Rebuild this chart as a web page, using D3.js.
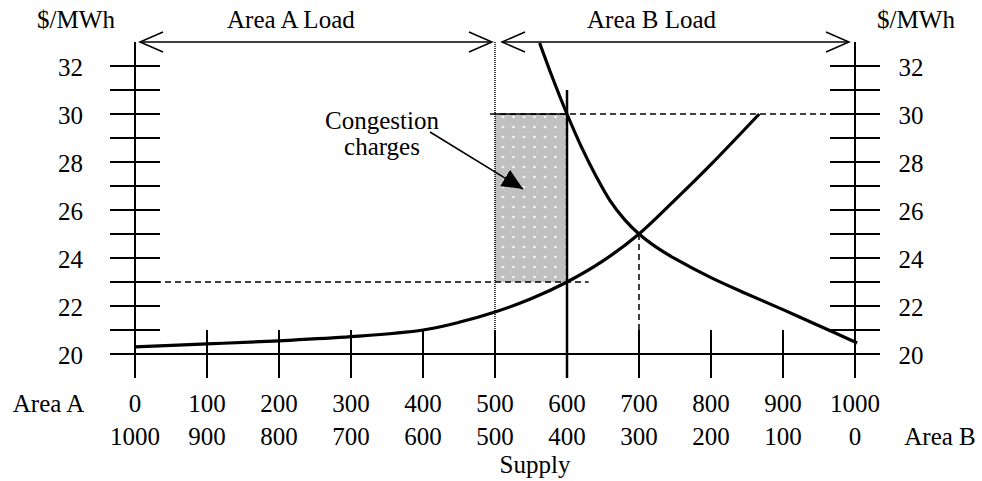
<!DOCTYPE html>
<html><head><meta charset="utf-8">
<script src="https://cdn.jsdelivr.net/npm/d3@7/dist/d3.min.js"></script>
<style>body{margin:0;background:#fff}svg{display:block}text{font-family:"Liberation Serif","Times New Roman",serif;font-size:25px;fill:#000}</style>
</head><body><svg id="c" width="982" height="481"></svg>
<script>
// ---- data ----
const xTicks = [0,100,200,300,400,500,600,700,800,900,1000];
const areaALabels = ["0","100","200","300","400","500","600","700","800","900","1000"];
const areaBLabels = ["1000","900","800","700","600","500","400","300","200","100","0"];
const yTicks = [20,21,22,23,24,25,26,27,28,29,30,31,32];
const yLabels = [20,22,24,26,28,30,32];
const supplyX = [0,100,200,300,400,450,500,550,600,650,700,750,800,867];
const supplyY = [20.3,20.42,20.55,20.72,21.0,21.32,21.75,22.3,23.0,23.88,25.0,26.42,27.9,30.0];
const demandX = [562,580,600,620,640,660,680,700,725,750,800,850,900,950,1003];
const demandY = [32.96,31.5,30.0,28.63,27.43,26.38,25.6,25.0,24.43,23.97,23.18,22.5,21.85,21.18,20.46];
const congestionX = [500,600];   // interface limit band
const priceA = 23, priceB = 30;  // area prices
const eqX = 700, eqY = 25;       // unconstrained equilibrium
const areaLoadLabels = ["Area A Load","Area B Load"];

// ---- scales ----
const svg = d3.select("#c");
const x = d3.scaleLinear().domain([0,1000]).range([135,855]);
const y = d3.scaleLinear().domain([20,32]).range([354,66]);
const topY = 42, axisBottom = 378, tickTop = 330;

// pattern
const defs = svg.append("defs");
const pat = defs.append("pattern").attr("id","dots").attr("patternUnits","userSpaceOnUse")
  .attr("width",10.5).attr("height",10).attr("x",x(500)).attr("y",y(30));
pat.append("rect").attr("width",10.5).attr("height",10).attr("fill","#c0c0c0");
pat.append("circle").attr("cx",8).attr("cy",3).attr("r",1.2).attr("fill","#fff");
defs.append("marker").attr("id","tri").attr("viewBox","0 0 10 10").attr("refX",10).attr("refY",5)
  .attr("markerWidth",21).attr("markerHeight",19).attr("markerUnits","userSpaceOnUse").attr("orient","auto")
  .attr("preserveAspectRatio","none")
  .append("path").attr("d","M0,0 L10,5 L0,10 Z").attr("fill","#000");

// congestion rect
svg.append("rect").attr("x",x(congestionX[0])).attr("y",y(priceB))
  .attr("width",x(congestionX[1])-x(congestionX[0])).attr("height",y(priceA)-y(priceB))
  .attr("fill","url(#dots)");
svg.append("line").attr("x1",x(congestionX[0])).attr("x2",x(congestionX[1])).attr("y1",y(priceB)).attr("y2",y(priceB))
  .attr("stroke","#000").attr("stroke-width",1.5);

// y axes (left & right)
[[x(0),-1],[x(1000),1]].forEach(([ax,side])=>{
  svg.append("line").attr("x1",ax).attr("x2",ax).attr("y1",topY).attr("y2",axisBottom).attr("stroke","#000").attr("stroke-width",2);
  svg.selectAll(null).data(yTicks).enter().append("line")
    .attr("x1",ax-25).attr("x2",ax+25).attr("y1",d=>y(d)).attr("y2",d=>y(d)).attr("stroke","#000").attr("stroke-width",2);
  svg.selectAll(null).data(yLabels).enter().append("text")
    .attr("x",side<0?ax-64.5:ax+56).attr("y",d=>y(d)+10).attr("text-anchor","middle").text(d=>d);
  svg.append("text").attr("x",side<0?76:916).attr("y",28).attr("text-anchor","middle").text("$/MWh");
});

// x axis
svg.append("line").attr("x1",x(0)-25).attr("x2",x(1000)+25).attr("y1",y(20)).attr("y2",y(20)).attr("stroke","#000").attr("stroke-width",2);
svg.selectAll(null).data(xTicks.filter(d=>d>0&&d<1000)).enter().append("line")
  .attr("x1",d=>x(d)).attr("x2",d=>x(d)).attr("y1",d=>d===600?y(31):tickTop).attr("y2",axisBottom)
  .attr("stroke","#000").attr("stroke-width",d=>d===600?2.5:2);
svg.selectAll(null).data(xTicks).enter().append("text")
  .attr("x",d=>x(d)).attr("y",412).attr("text-anchor","middle").text((d,i)=>areaALabels[i]);
svg.selectAll(null).data(xTicks).enter().append("text")
  .attr("x",d=>x(d)).attr("y",445).attr("text-anchor","middle").text((d,i)=>areaBLabels[i]);
svg.append("text").attr("x",48.5).attr("y",412).attr("text-anchor","middle").text("Area A");
svg.append("text").attr("x",940).attr("y",445).attr("text-anchor","middle").text("Area B");
svg.append("text").attr("x",535).attr("y",473).attr("text-anchor","middle").text("Supply");

// dotted interface line
svg.append("line").attr("x1",x(500)).attr("x2",x(500)).attr("y1",topY).attr("y2",tickTop)
  .attr("stroke","#000").attr("stroke-width",1.5).attr("stroke-dasharray","1,1");

// dashed guides
const dash = (x1,y1,x2,y2)=>svg.append("line").attr("x1",x1).attr("y1",y1).attr("x2",x2).attr("y2",y2)
  .attr("stroke","#000").attr("stroke-width",1.5).attr("stroke-dasharray","6,4");
dash(x(0),y(priceA),x(630),y(priceA));
dash(x(493),y(priceB),x(1000)+25,y(priceB));
dash(x(eqX),y(eqY),x(eqX),tickTop);

// curves
const line = d3.line().x(d=>x(d[0])).y(d=>y(d[1])).curve(d3.curveCatmullRom);
svg.append("path").datum(supplyX.map((v,i)=>[v,supplyY[i]])).attr("d",line)
  .attr("fill","none").attr("stroke","#000").attr("stroke-width",3.2);
svg.append("path").datum(demandX.map((v,i)=>[v,demandY[i]])).attr("d",line)
  .attr("fill","none").attr("stroke","#000").attr("stroke-width",3.2);

// top double arrows
const chevron = (tx,dir)=>svg.append("path")
  .attr("d",`M${tx+dir*23},${topY-10} L${tx},${topY} L${tx+dir*23},${topY+10}`)
  .attr("fill","none").attr("stroke","#000").attr("stroke-width",1.5);
const labelStart = [227,587];
[[x(0)+5,x(500)-3],[x(500)+7,x(1000)-6]].forEach(([a,b],i)=>{
  svg.append("line").attr("x1",a).attr("x2",b).attr("y1",topY).attr("y2",topY).attr("stroke","#000").attr("stroke-width",1.5);
  chevron(a,1); chevron(b,-1);
  svg.append("text").attr("x",labelStart[i]).attr("y",28).attr("text-anchor","start").text(areaLoadLabels[i]);
});

// congestion label + arrow
svg.append("text").attr("x",382).attr("y",129).attr("text-anchor","middle").text("Congestion");
svg.append("text").attr("x",382).attr("y",155).attr("text-anchor","middle").text("charges");
svg.append("line").attr("x1",430).attr("y1",132).attr("x2",523).attr("y2",189)
  .attr("stroke","#000").attr("stroke-width",1.5).attr("marker-end","url(#tri)");
</script></body></html>
